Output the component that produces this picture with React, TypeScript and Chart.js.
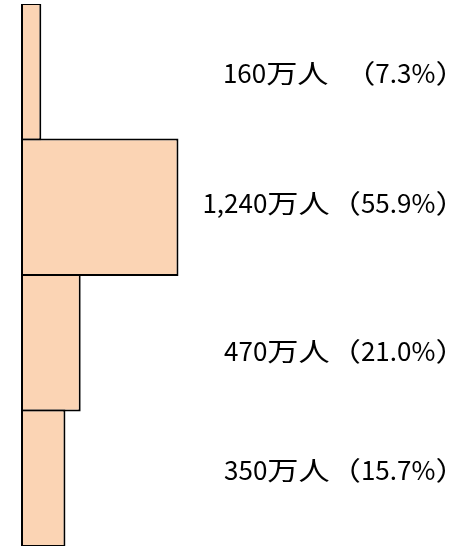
import React, { useEffect, useRef } from "react";
import { Chart, registerables } from "chart.js";

Chart.register(...registerables);

const categories = ["区分A", "区分B", "区分C", "区分D"];
const people = [160, 1240, 470, 350];
const shares = [7.3, 55.9, 21.0, 15.7];
const labelTexts = [
  "160万人　（7.3%）",
  "1,240万人（55.9%）",
  "470万人（21.0%）",
  "350万人（15.7%）",
];

const labelOffsets = [2, -4, 9, -8];

const FONT_ASCII = '26px "Noto Sans CJK JP", "Noto Sans", sans-serif';
const FONT_WIDE = '26px "Noto Sans CJK JP", "Noto Sans", sans-serif';
const WIDE_STRETCH = 1.2;

function splitRuns(text: string) {
  const runs: { t: string; wide: boolean }[] = [];
  for (const ch of text) {
    const wide = ch.charCodeAt(0) > 0x2fff;
    const last = runs[runs.length - 1];
    if (last && last.wide === wide) last.t += ch;
    else runs.push({ t: ch, wide });
  }
  return runs;
}

const labelPlugin = {
  id: "rightLabels",
  afterDatasetsDraw(chart: any) {
    const ctx = chart.ctx;
    const meta = chart.getDatasetMeta(0);
    ctx.save();
    ctx.fillStyle = "#000000";
    ctx.textAlign = "left";
    ctx.textBaseline = "alphabetic";
    ctx.font = FONT_ASCII;
    const digitH = ctx.measureText("0").actualBoundingBoxAscent;
    meta.data.forEach((bar: any, i: number) => {
      const runs = splitRuns(labelTexts[i]);
      let total = 0;
      let lastInkRight = 0;
      const widths: number[] = [];
      runs.forEach((r, k) => {
        ctx.font = r.wide ? FONT_WIDE : FONT_ASCII;
        const m = ctx.measureText(r.t);
        const s = r.wide ? WIDE_STRETCH : 1;
        widths.push(m.width * s);
        if (k === runs.length - 1) lastInkRight = total + m.actualBoundingBoxRight * s;
        total += m.width * s;
      });
      let x = 445 - lastInkRight;
      const y = bar.y + labelOffsets[i] + digitH / 2;
      runs.forEach((r, k) => {
        if (r.wide) {
          ctx.save();
          ctx.font = FONT_WIDE;
          ctx.translate(x, y);
          ctx.scale(WIDE_STRETCH, 1);
          ctx.fillText(r.t, 0, 0);
          ctx.restore();
        } else {
          ctx.font = FONT_ASCII;
          ctx.fillText(r.t, x, y);
        }
        x += widths[k];
      });
    });
    ctx.restore();
  },
};

export default function App() {
  const canvasRef = useRef<HTMLCanvasElement | null>(null);

  useEffect(() => {
    if (!canvasRef.current) return;
    const chart = new Chart(canvasRef.current, {
      type: "bar",
      data: {
        labels: categories,
        datasets: [
          {
            data: people,
            backgroundColor: "#FBD4B4",
            borderColor: "#000000",
            borderWidth: 2,
            borderSkipped: false,
            categoryPercentage: 1,
            barPercentage: 137.5 / 135.5,
          },
        ],
      },
      options: {
        indexAxis: "y",
        animation: false,
        responsive: false,
        maintainAspectRatio: false,
        layout: { padding: { left: 21, right: 182, top: 4, bottom: 2 } },
        plugins: {
          legend: { display: false },
          tooltip: { enabled: false },
          title: { display: false },
        },
        scales: {
          x: { display: false, min: 0, max: 2000 },
          y: { display: false },
        },
      },
      plugins: [labelPlugin],
    });
    return () => chart.destroy();
  }, []);

  return (
    <div style={{ position: "absolute", left: 0, top: 0, width: 457, height: 548, background: "#ffffff" }}>
      <canvas
        ref={canvasRef}
        width={457}
        height={548}
        style={{ display: "block", width: 457, height: 548 }}
        aria-label={labelTexts.join(" / ") + " — " + shares.join(", ")}
      />
    </div>
  );
}
